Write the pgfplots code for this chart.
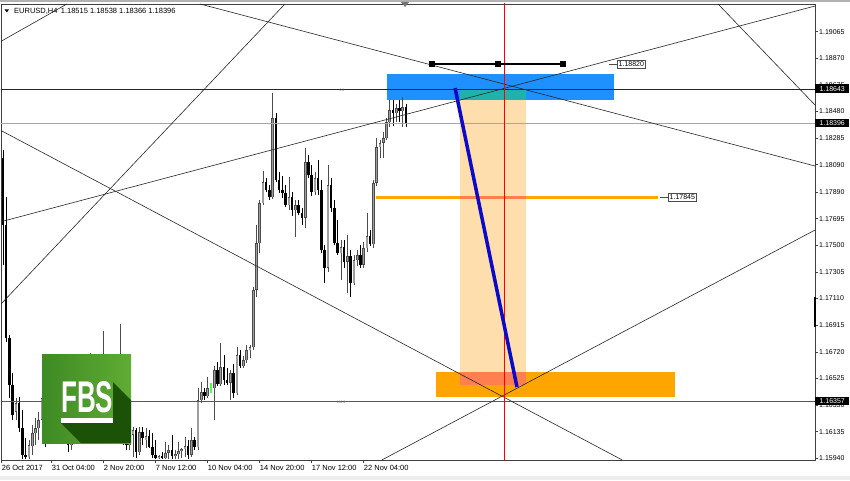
\documentclass[border=0pt]{standalone}
\usepackage{pgfplots}
\pgfplotsset{compat=1.18}
\usepackage{pgfplotstable}
\usepackage{graphicx}
\usepackage{fontspec}
\setmainfont{Liberation Sans}

\definecolor{mtblue}{RGB}{30,144,255}
\definecolor{mtteal}{RGB}{32,178,170}
\definecolor{mtpeach}{RGB}{255,222,173}
\definecolor{mtorange}{RGB}{255,165,0}
\definecolor{mtcoral}{RGB}{255,127,80}
\definecolor{mtline}{RGB}{10,10,200}
\definecolor{fbsL}{RGB}{62,138,36}
\definecolor{fbsR}{RGB}{96,172,52}
\definecolor{fbsD}{RGB}{28,82,8}

% EURUSD H4 candles (bar index, open, high, low, close)
\pgfplotstableread{
i O H L C
4 1.16279 1.16382 1.16221 1.16345
8 1.15949 1.16074 1.15935 1.16037
9 1.16030 1.16184 1.15964 1.16125
10 1.16125 1.16235 1.16037 1.16162
11 1.16162 1.16279 1.16074 1.16221
12 1.16221 1.16418 1.16147 1.16382
15 1.16133 1.16257 1.16089 1.16235
16 1.16235 1.16352 1.16184 1.16308
18 1.16184 1.16279 1.16133 1.16257
21 1.16037 1.16147 1.16001 1.16133
22 1.16133 1.16257 1.16089 1.16221
24 1.16147 1.16330 1.16111 1.16294
25 1.16294 1.16404 1.16235 1.16367
27 1.16294 1.16711 1.16235 1.16404
30 1.16184 1.16294 1.16147 1.16279
31 1.16279 1.16872 1.16235 1.16367
34 1.16147 1.16279 1.16111 1.16235
36 1.16184 1.16924 1.16133 1.16257
39 1.16037 1.16147 1.16001 1.16111
40 1.16111 1.16169 1.15949 1.16147
42 1.15986 1.16169 1.15964 1.16133
44 1.16074 1.16162 1.16015 1.16103
48 1.15942 1.15964 1.15935 1.15957
50 1.15942 1.16059 1.15935 1.15979
51 1.15979 1.16037 1.15935 1.16001
53 1.15957 1.16001 1.15935 1.15971
54 1.15971 1.16059 1.15935 1.15993
55 1.15993 1.16015 1.15942 1.16008
56 1.16008 1.16096 1.15949 1.16030
58 1.15964 1.16162 1.15949 1.16074
60 1.16023 1.16455 1.16001 1.16367
61 1.16367 1.16499 1.16345 1.16426
63 1.16396 1.16535 1.16382 1.16455
65 1.16455 1.16616 1.16221 1.16587
67 1.16484 1.16785 1.16470 1.16609
70 1.16492 1.16587 1.16367 1.16565
72 1.16418 1.16755 1.16404 1.16697
74 1.16616 1.16689 1.16601 1.16660
75 1.16660 1.16770 1.16638 1.16733
76 1.16733 1.16770 1.16675 1.16755
77 1.16755 1.17195 1.16733 1.17173
78 1.17173 1.17649 1.17122 1.17517
79 1.17517 1.17832 1.17444 1.17810
80 1.17810 1.18044 1.17795 1.17964
83 1.17854 1.18616 1.17839 1.18433
88 1.17795 1.18000 1.17759 1.17854
90 1.17759 1.17832 1.17561 1.17795
93 1.17700 1.18213 1.17627 1.18110
96 1.17891 1.18037 1.17869 1.17993
100 1.17334 1.18088 1.17305 1.17942
104 1.17444 1.17539 1.17246 1.17488
106 1.17378 1.17576 1.17151 1.17422
108 1.17224 1.17429 1.17209 1.17392
109 1.17392 1.17466 1.17349 1.17429
111 1.17356 1.17524 1.17334 1.17480
112 1.17480 1.17737 1.17451 1.17568
114 1.17510 1.17978 1.17480 1.17957
115 1.17957 1.18286 1.17935 1.18220
116 1.18220 1.18271 1.18140 1.18250
117 1.18250 1.18330 1.18140 1.18286
118 1.18286 1.18433 1.18271 1.18403
119 1.18403 1.18564 1.18367 1.18491
121 1.18469 1.18535 1.18403 1.18506
123 1.18484 1.18586 1.18367 1.18515
}\bull

\pgfplotstableread{
i O H L C
0 1.18140 1.18198 1.17356 1.17649
1 1.17649 1.17854 1.16792 1.16821
2 1.16821 1.16843 1.16382 1.16477
3 1.16477 1.16565 1.16221 1.16257
5 1.16345 1.16389 1.16133 1.16162
6 1.16162 1.16294 1.15935 1.15964
7 1.15964 1.16089 1.15935 1.15949
13 1.16382 1.16426 1.16023 1.16221
14 1.16221 1.16294 1.16074 1.16133
17 1.16308 1.16367 1.16147 1.16184
19 1.16257 1.16330 1.16074 1.16111
20 1.16111 1.16184 1.15986 1.16037
23 1.16221 1.16294 1.16111 1.16147
26 1.16367 1.16426 1.16257 1.16294
28 1.16404 1.16477 1.16221 1.16257
29 1.16257 1.16330 1.16133 1.16184
32 1.16367 1.16440 1.16184 1.16221
33 1.16221 1.16308 1.16089 1.16147
35 1.16235 1.16330 1.16147 1.16184
37 1.16257 1.16330 1.16037 1.16074
38 1.16074 1.16162 1.16001 1.16037
41 1.16147 1.16162 1.15942 1.15986
43 1.16133 1.16169 1.16037 1.16089
45 1.16103 1.16147 1.16015 1.16023
46 1.16023 1.16125 1.15942 1.15964
47 1.15964 1.16074 1.15935 1.15942
49 1.15957 1.15986 1.15935 1.15942
52 1.16001 1.16111 1.15935 1.15957
57 1.16030 1.16074 1.15935 1.15964
59 1.16074 1.16096 1.16001 1.16023
62 1.16426 1.16455 1.16367 1.16396
66 1.16587 1.16645 1.16470 1.16484
68 1.16609 1.16697 1.16477 1.16514
69 1.16514 1.16601 1.16477 1.16492
71 1.16565 1.16631 1.16382 1.16418
73 1.16697 1.16733 1.16601 1.16616
81 1.17964 1.17993 1.17891 1.17905
82 1.17905 1.17942 1.17832 1.17854
84 1.18433 1.18469 1.17964 1.17978
85 1.17978 1.18037 1.17883 1.17905
86 1.17905 1.18008 1.17847 1.17883
87 1.17883 1.17942 1.17781 1.17795
89 1.17854 1.17891 1.17715 1.17759
91 1.17795 1.17832 1.17722 1.17737
92 1.17737 1.17773 1.17649 1.17700
94 1.18110 1.18162 1.17993 1.18015
95 1.18015 1.18088 1.17861 1.17891
97 1.17993 1.18125 1.17869 1.17905
98 1.17905 1.17978 1.17444 1.17466
99 1.17466 1.17502 1.17224 1.17334
101 1.17942 1.17993 1.17744 1.17773
102 1.17773 1.17832 1.17502 1.17517
103 1.17517 1.17685 1.17429 1.17444
105 1.17488 1.17539 1.17334 1.17378
107 1.17422 1.17466 1.17122 1.17224
110 1.17429 1.17502 1.17334 1.17356
113 1.17568 1.17612 1.17495 1.17510
120 1.18491 1.18564 1.18374 1.18469
122 1.18506 1.18564 1.18403 1.18484
124 1.18515 1.18538 1.18366 1.18396
}\bear

\pgfplotstableread{
i O H L C
64 1.16455 1.16492 1.16418 1.16455
}\doji

\pgfplotsset{
  wick/.style={draw=none, mark=none, forget plot,
    error bars/.cd, y dir=both, y explicit, error mark=none,
    error bar style={draw=#1, line width=0.8pt}},
  body/.style 2 args={draw=none, mark=none, forget plot,
    error bars/.cd, y dir=both, y explicit, error mark=none,
    error bar style={draw=#1, line width=#2}},
}

\begin{document}
\begin{tikzpicture}
\useasboundingbox (0,0) rectangle (850pt,480pt);
\fill[black!30] (0,477.5pt) rectangle (850pt,480pt);
\fill[black!7] (0,0) rectangle (850pt,4pt);

\begin{axis}[
  at={(1pt,20pt)}, anchor=south west,
  scale only axis, width=814pt, height=456pt,
  xmin=-0.615, xmax=249.85,
  ymin=1.159275, ymax=1.192677,
  axis line style={black!75, line width=0.8pt},
  xtick pos=bottom, ytick pos=right, yticklabel pos=right,
  tick align=outside, major tick length=3pt,
  tick style={black!75, line width=0.6pt},
  xtick={-0.4,15,31,47,63,79,95,111},
  xticklabels={26 Oct 2017,31 Oct 04:00,2 Nov 20:00,7 Nov 12:00,10 Nov 04:00,14 Nov 20:00,17 Nov 12:00,22 Nov 04:00},
  xticklabel style={anchor=north west, inner sep=0pt, xshift=0pt, yshift=-2pt, font=\fontsize{7.5}{8}\selectfont},
  ytick={1.15940,1.16135,1.16330,1.16525,1.16720,1.16915,1.17110,1.17305,1.17500,1.17695,1.17890,1.18090,1.18285,1.18480,1.18675,1.18870,1.19065},
  yticklabels={1.15940,1.16135,1.16330,1.16525,1.16720,1.16915,1.17110,1.17305,1.17500,1.17695,1.17890,1.18090,1.18285,1.18480,1.18675,1.18870,1.19065},
  yticklabel style={anchor=west, inner sep=0pt, xshift=1pt, font=\fontsize{7}{8}\selectfont},
]
% zones
\fill[mtblue] (axis cs:118.15,1.18565) rectangle (axis cs:187.98,1.18755);
\fill[mtpeach] (axis cs:140.6,1.16477) rectangle (axis cs:160.9,1.18643);
\fill[mtteal] (axis cs:140.6,1.18565) rectangle (axis cs:160.9,1.18643);
\fill[mtorange] (axis cs:133.2,1.16389) rectangle (axis cs:206.8,1.16572);
\fill[mtcoral] (axis cs:140.6,1.16477) rectangle (axis cs:160.9,1.16572);

% candles
\addplot[wick=black!70] table[x=i, y expr={(\thisrow{H}+\thisrow{L})/2}, y error expr={(\thisrow{H}-\thisrow{L})/2}] {\bull};
\addplot[wick=black] table[x=i, y expr={(\thisrow{H}+\thisrow{L})/2}, y error expr={(\thisrow{H}-\thisrow{L})/2}] {\bear};
\addplot[body={black!70}{2.7pt}] table[x=i, y expr={(\thisrow{O}+\thisrow{C})/2}, y error expr={abs(\thisrow{O}-\thisrow{C})/2}] {\bull};
\addplot[body={black!38}{1.2pt}] table[x=i, y expr={(\thisrow{O}+\thisrow{C})/2}, y error expr={max(abs(\thisrow{O}-\thisrow{C})/2-0.00004,0)}] {\bull};
\addplot[body={black}{2.5pt}] table[x=i, y expr={(\thisrow{O}+\thisrow{C})/2}, y error expr={abs(\thisrow{O}-\thisrow{C})/2}] {\bear};
\addplot[body={green!70!white}{1.2pt}] table[x=i, y expr={(\thisrow{H}+\thisrow{L})/2}, y error expr={(\thisrow{H}-\thisrow{L})/2}] {\doji};

% horizontal levels
\draw[black!85, line width=0.8pt] (axis cs:-1,1.18643) -- (axis cs:251,1.18643);
\draw[black!35, line width=0.8pt] (axis cs:-1,1.18396) -- (axis cs:251,1.18396);
\draw[black!65, line width=1pt] (axis cs:-1,1.16357) -- (axis cs:251,1.16357);

% trend lines
\draw[black!85, line width=0.6pt] (axis cs:-0.615,1.18341) -- (axis cs:190.5,1.15928);
\draw[black!85, line width=0.6pt] (axis cs:116.6,1.15928) -- (axis cs:249.85,1.17612);
\draw[black!85, line width=0.6pt] (axis cs:60.6,1.19268) -- (axis cs:249.85,1.18081);
\draw[black!85, line width=0.6pt] (axis cs:-0.615,1.17673) -- (axis cs:249.85,1.19253);
\draw[black!85, line width=0.6pt] (axis cs:-0.615,1.17070) -- (axis cs:86.77,1.19268);
\draw[black!85, line width=0.6pt] (axis cs:-0.615,1.18994) -- (axis cs:19.69,1.19268);
\draw[black!85, line width=0.6pt] (axis cs:220,1.19268) -- (axis cs:249.85,1.18528);

% target line and markers
\draw[mtorange, line width=3pt] (axis cs:114.8,1.17850) -- (axis cs:201.5,1.17850);
\draw[mtcoral, line width=3pt] (axis cs:140.6,1.17850) -- (axis cs:160.9,1.17850);
\draw[red, line width=0.6pt] (axis cs:154.15,1.159) -- (axis cs:154.15,1.193);
\draw[black, line width=2.5pt] (axis cs:132,1.18830) -- (axis cs:172.3,1.18830);
\fill[black] (axis cs:132,1.18830) ++(-3pt,-3pt) rectangle ++(6pt,6pt);
\fill[black] (axis cs:152.2,1.18830) ++(-3pt,-3pt) rectangle ++(6pt,6pt);
\fill[black] (axis cs:172.3,1.18830) ++(-3pt,-3pt) rectangle ++(6pt,6pt);
\draw[mtline, line width=3.5pt] (axis cs:139.1,1.18652) -- (axis cs:158.15,1.16462);
\end{axis}

\begin{scope}[shift={(0pt,480pt)}, x=1pt, y=-1pt]
% chart title
\fill[black] (4.7,9.5) -- (8.9,9.5) -- (6.8,12.5) -- cycle;
\node[anchor=west, inner sep=0pt, font=\fontsize{7.5}{8}\selectfont] at (14,11) {EURUSD,H4\,\ 1.18515 1.18538 1.18366 1.18396};
\fill[black!55] (401,2) -- (409,2) -- (405,7) -- cycle;
% fib level captions
\node[font=\fontsize{3.5}{4}\selectfont, text=black!55, inner sep=0pt] at (342,90.5) {0.0};
\node[font=\fontsize{3.5}{4}\selectfont, text=black!55, inner sep=0pt] at (341,402.5) {100.0};
% price tags
\draw[black!70, line width=0.6pt] (609,64) -- (617,64);
\node[draw=black!70, fill=white, anchor=west, inner xsep=1.5pt, inner ysep=1.5pt, font=\fontsize{7}{8}\selectfont] at (617,64) {1.18820};
\draw[black!70, line width=0.6pt] (660,197) -- (668,197);
\node[draw=black!70, fill=white, anchor=west, inner xsep=1.5pt, inner ysep=1.5pt, font=\fontsize{7}{8}\selectfont] at (668,197) {1.17845};
\draw[black, line width=2pt] (815,297) -- (815,327);
\foreach \yy/\lab in {88.8/1.18643, 123/1.18396, 400.8/1.16357}
  \node[fill=black, text=white, anchor=west, inner xsep=0pt, inner ysep=0pt, minimum width=34pt, minimum height=8.6pt, font=\fontsize{7}{8}\selectfont] at (815,\yy) {\lab};
% FBS logo
\begin{scope}
\clip (42,354) rectangle (131,443);
\shade[left color=fbsL, right color=fbsR] (42,354) rectangle (131,443);
\fill[fbsD] (61,423) -- (81,443) -- (131,443) -- (131,400) -- (113,382) -- (113,423) -- cycle;
\node[text=white, inner sep=0pt, anchor=south west] at (61,413) {\resizebox{52pt}{31pt}{\bfseries FBS}};
\fill[white] (61,418) rectangle (113,423);
\end{scope}
\end{scope}
\end{tikzpicture}
\end{document}
